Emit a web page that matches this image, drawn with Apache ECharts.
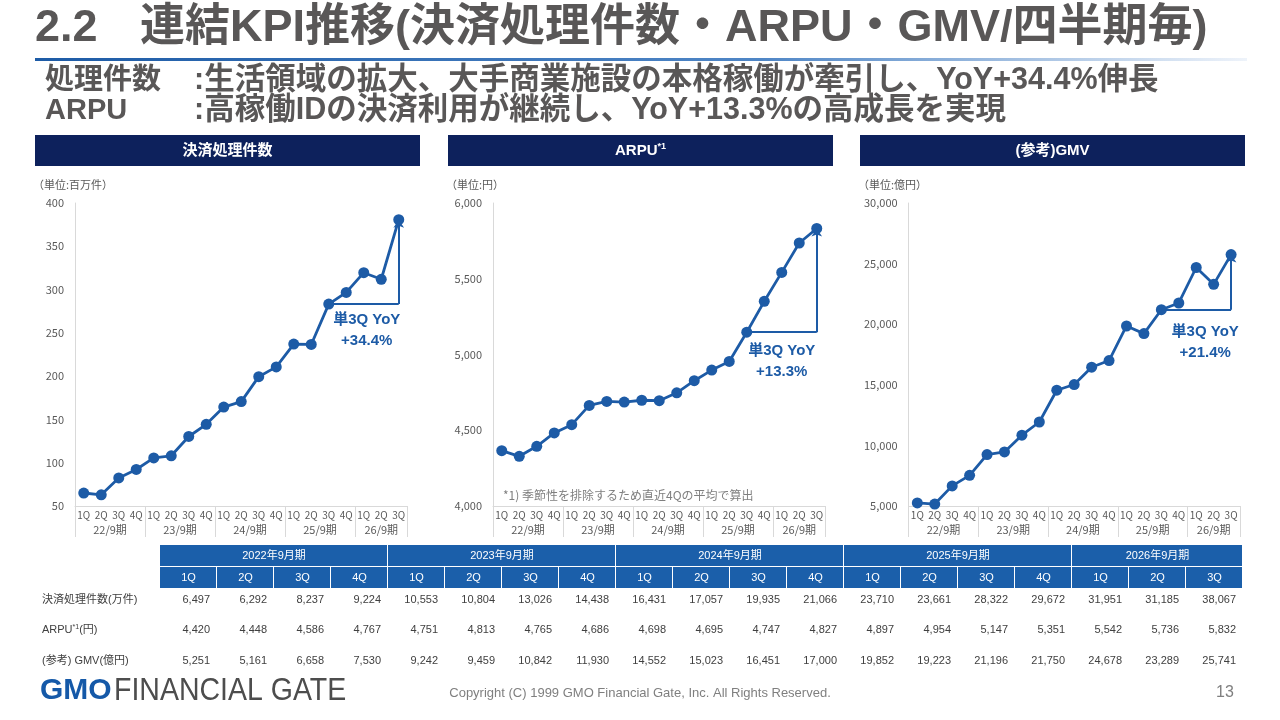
<!DOCTYPE html>
<html>
<head>
<meta charset="utf-8">
<script src="https://cdn.jsdelivr.net/npm/echarts@6.0.0/dist/echarts.min.js"></script>
<style>
  html, body { margin: 0; padding: 0; background: #fff; }
  #main { width: 1280px; height: 720px; }
</style>
</head>
<body>
<div id="main"></div>
<script>
// データ
var quarters = ['1Q', '2Q', '3Q', '4Q', '1Q', '2Q', '3Q', '4Q', '1Q', '2Q', '3Q', '4Q', '1Q', '2Q', '3Q', '4Q', '1Q', '2Q', '3Q'];
var fiscalShort = ['22/9期', '23/9期', '24/9期', '25/9期', '26/9期'];
var fiscalLong = ['2022年9月期', '2023年9月期', '2024年9月期', '2025年9月期', '2026年9月期'];
var fiscalSpan = [4, 4, 4, 4, 3];

// グラフ用
var countChart = [65.0, 62.9, 82.4, 92.2, 105.5, 108.0, 130.3, 144.4, 164.3, 170.6, 199.4, 210.7, 237.1, 236.6, 283.2, 296.7, 319.5, 311.9, 380.7];
var arpuChart = [4365, 4328, 4394, 4482, 4537, 4664, 4690, 4686, 4698, 4695, 4747, 4827, 4897, 4954, 5147, 5351, 5542, 5736, 5832];
var gmvChart = [5251, 5161, 6658, 7530, 9242, 9459, 10842, 11930, 14552, 15023, 16451, 17000, 19852, 19223, 21196, 21750, 24678, 23289, 25741];

// 表
var rowLabels = ['決済処理件数(万件)', 'ARPU{sup|*1}(円)', '(参考) GMV(億円)'];
var countTable = [6497, 6292, 8237, 9224, 10553, 10804, 13026, 14438, 16431, 17057, 19935, 21066, 23710, 23661, 28322, 29672, 31951, 31185, 38067];
var arpuTable = [4420, 4448, 4586, 4767, 4751, 4813, 4765, 4686, 4698, 4695, 4747, 4827, 4897, 4954, 5147, 5351, 5542, 5736, 5832];
var gmvTable = [5251, 5161, 6658, 7530, 9242, 9459, 10842, 11930, 14552, 15023, 16451, 17000, 19852, 19223, 21196, 21750, 24678, 23289, 25741];

var panelTitles = ['決済処理件数', 'ARPU{sup|*1}', '(参考)GMV'];
var unitLabels = ['（単位:百万件）', '（単位:円）', '（単位:億円）'];
var yoyLabels = ['+34.4%', '+13.3%', '+21.4%'];
var yoyTextPos = [[16, 253], [16, 4953], [16, 18475]];
var yRanges = [[50, 400, 50], [4000, 6000, 500], [5000, 30000, 5000]];
var yearLabelPos = [2, 6, 10, 14, 17.5];
var yearTickPos = [0, 4, 8, 12, 16, 19];

var blue = '#1d5ba6';
var navy = '#0d215c';
var gray = '#595757';
var axisGray = '#d9d9d9';
var labelGray = '#595959';
var jp = '"Noto Sans CJK JP", "Noto Sans", sans-serif';
var mix = '"Liberation Sans", "Noto Sans CJK JP", sans-serif';
var num = '"Liberation Sans", Arial, sans-serif';

var gridLeft = [75, 493, 908.6];
var gridWidth = [332.5, 332.5, 331.2];
var panelX = [35, 448, 860];
var seriesData = [countChart, arpuChart, gmvChart];

var myChart = echarts.init(document.getElementById('main'));

var grids = [], xAxes = [], yAxes = [], series = [];
for (var i = 0; i < 3; i++) {
  grids.push({ left: gridLeft[i], top: 203, width: gridWidth[i], height: 303 });
  // 四半期ラベル
  xAxes.push({
    type: 'category',
    gridIndex: i,
    position: 'bottom',
    data: quarters,
    boundaryGap: true,
    axisLine: { show: true, onZero: false, lineStyle: { color: axisGray, width: 1 } },
    axisTick: { show: false },
    axisLabel: { color: labelGray, fontSize: 10, margin: 4, interval: 0, fontFamily: jp }
  });
  // 期ラベルと区切り線
  xAxes.push({
    type: 'value',
    gridIndex: i,
    position: 'bottom',
    min: 0,
    max: 19,
    axisLine: { show: false, onZero: false },
    splitLine: { show: false },
    axisTick: { show: true, customValues: yearTickPos, length: 31, lineStyle: { color: axisGray } },
    axisLabel: {
      customValues: yearLabelPos,
      margin: 18,
      color: labelGray,
      fontSize: 11,
      fontFamily: jp,
      formatter: function (v) { return fiscalShort[yearLabelPos.indexOf(v)] || ''; }
    }
  });
  yAxes.push({
    type: 'value',
    gridIndex: i,
    min: yRanges[i][0],
    max: yRanges[i][1],
    interval: yRanges[i][2],
    axisLine: { show: true, lineStyle: { color: axisGray } },
    axisTick: { show: false },
    splitLine: { show: false },
    axisLabel: {
      color: labelGray, fontSize: 11, margin: 11, fontFamily: jp,
      formatter: function (v) { return v.toLocaleString('en-US'); }
    }
  });
  var d = seriesData[i];
  series.push({
    type: 'line',
    xAxisIndex: i * 2,
    yAxisIndex: i,
    data: d,
    symbol: 'circle',
    symbolSize: 11,
    lineStyle: { color: blue, width: 2.8 },
    itemStyle: { color: blue },
    z: 3,
    markLine: {
      silent: true,
      symbol: ['none', 'none'],
      lineStyle: { color: blue, width: 2, type: 'solid' },
      label: { show: false },
      data: [
        [{ coord: [14, d[14]] }, { coord: [18, d[14]] }],
        [{ coord: [18, d[14]], symbol: 'none' }, { coord: [18, d[18]], symbol: 'arrow', symbolSize: 8 }]
      ]
    },
    markPoint: {
      silent: true,
      symbol: 'circle',
      symbolSize: 1,
      itemStyle: { color: 'rgba(0,0,0,0)' },
      label: {
        show: true,
        position: 'inside',
        formatter: '単3Q YoY\n' + yoyLabels[i],
        color: blue,
        fontSize: 15,
        fontWeight: 'bold',
        lineHeight: 21,
        fontFamily: mix,
        offset: [i === 2 ? 9 : (i === 0 ? 3 : 0), 0]
      },
      data: [{ coord: yoyTextPos[i] }]
    }
  });
}

// 見出し・表などの図形
var graphics = [];
graphics.push({ type: 'text', left: 35, top: 6, style: { text: '2.2', font: 'bold 45px ' + mix, fill: gray } });
graphics.push({ type: 'text', left: 140, top: 6, style: { text: '連結KPI推移(決済処理件数・ARPU・GMV/四半期毎)', font: 'bold 45px ' + mix, fill: gray } });
graphics.push({
  type: 'rect', shape: { x: 35, y: 58, width: 1212, height: 3 },
  style: { fill: new echarts.graphic.LinearGradient(0, 0, 1, 0, [
    { offset: 0, color: '#1d5ba6' }, { offset: 0.6, color: '#4f86c6' }, { offset: 1, color: '#eef3fa' }
  ]) }
});
graphics.push({ type: 'text', left: 45, top: 66, style: { text: '処理件数', font: 'bold 29px ' + mix, fill: gray } });
graphics.push({ type: 'text', left: 194, top: 65, style: { text: ':生活領域の拡大、大手商業施設の本格稼働が牽引し、YoY+34.4%伸長', font: 'bold 30.5px ' + mix, fill: gray } });
graphics.push({ type: 'text', left: 45, top: 96, style: { text: 'ARPU', font: 'bold 29px ' + mix, fill: gray } });
graphics.push({ type: 'text', left: 194, top: 95, style: { text: ':高稼働IDの決済利用が継続し、YoY+13.3%の高成長を実現', font: 'bold 30.5px ' + mix, fill: gray } });

for (var p = 0; p < 3; p++) {
  graphics.push({ type: 'rect', shape: { x: panelX[p], y: 135, width: 385, height: 31 }, style: { fill: navy } });
  graphics.push({
    type: 'text', x: panelX[p] + 192.5, y: 151,
    style: {
      text: panelTitles[p], fill: '#fff', font: 'bold 15px ' + mix, align: 'center', verticalAlign: 'middle',
      rich: { sup: { fontSize: 9, fontWeight: 'bold', fill: '#fff', verticalAlign: 'top', padding: [0, 0, 8, 0] } }
    }
  });
  graphics.push({ type: 'text', x: panelX[p] - 2, y: 185, style: { text: unitLabels[p], fill: labelGray, font: '11px ' + jp, verticalAlign: 'middle' } });
}
graphics.push({ type: 'text', x: 503, y: 495, style: { text: '*1) 季節性を排除するため直近4Qの平均で算出', fill: '#7f7f7f', font: '12px ' + jp, verticalAlign: 'middle' } });

// 表
var tblX = 160, colW = 57, tblBlue = '#1b5faa';
var start = 0;
for (var f = 0; f < fiscalLong.length; f++) {
  graphics.push({ type: 'rect', shape: { x: tblX + start * colW, y: 545, width: fiscalSpan[f] * colW - 1, height: 21 }, style: { fill: tblBlue } });
  graphics.push({ type: 'text', x: tblX + (start + fiscalSpan[f] / 2) * colW, y: 556, style: { text: fiscalLong[f], fill: '#fff', font: '11px ' + mix, align: 'center', verticalAlign: 'middle' } });
  start += fiscalSpan[f];
}
var tableRows = [countTable, arpuTable, gmvTable];
var rowY = [600, 630, 661];
for (var q = 0; q < quarters.length; q++) {
  graphics.push({ type: 'rect', shape: { x: tblX + q * colW, y: 567, width: colW - 1, height: 21 }, style: { fill: tblBlue } });
  graphics.push({ type: 'text', x: tblX + (q + 0.5) * colW, y: 578, style: { text: quarters[q], fill: '#fff', font: '11px ' + mix, align: 'center', verticalAlign: 'middle' } });
  for (var r = 0; r < 3; r++) {
    graphics.push({ type: 'text', x: tblX + (q + 1) * colW - 7, y: rowY[r], style: { text: tableRows[r][q].toLocaleString('en-US'), fill: '#404040', font: '11px ' + num, align: 'right', verticalAlign: 'middle' } });
  }
}
for (var r2 = 0; r2 < 3; r2++) {
  graphics.push({
    type: 'text', x: 42, y: rowY[r2],
    style: {
      text: rowLabels[r2], fill: '#404040', font: '11px ' + mix, verticalAlign: 'middle',
      rich: { sup: { fontSize: 7, fill: '#404040', verticalAlign: 'top', padding: [0, 0, 6, 0] } }
    }
  });
}

// フッター
graphics.push({ type: 'text', x: 40, y: 691, style: { text: 'GMO', fill: '#1559a8', font: 'bold 30px ' + num, verticalAlign: 'middle' } });
graphics.push({ type: 'text', x: 114, y: 691, scaleX: 0.95, scaleY: 1.05, style: { text: 'FINANCIAL GATE', fill: '#4d4d4d', font: '30px ' + num, verticalAlign: 'middle' } });
graphics.push({ type: 'text', x: 640, y: 693, style: { text: 'Copyright (C) 1999 GMO Financial Gate, Inc. All Rights Reserved.', fill: '#7f7f7f', font: '13px ' + num, align: 'center', verticalAlign: 'middle' } });
graphics.push({ type: 'text', x: 1225, y: 693, style: { text: '13', fill: '#7f7f7f', font: '16px ' + num, align: 'center', verticalAlign: 'middle' } });

var option = {
  animation: false,
  backgroundColor: '#fff',
  grid: grids,
  xAxis: xAxes,
  yAxis: yAxes,
  series: series,
  graphic: graphics
};

myChart.setOption(option);
window.addEventListener('resize', function () {
  myChart && myChart.resize();
});
</script>
</body>
</html>
